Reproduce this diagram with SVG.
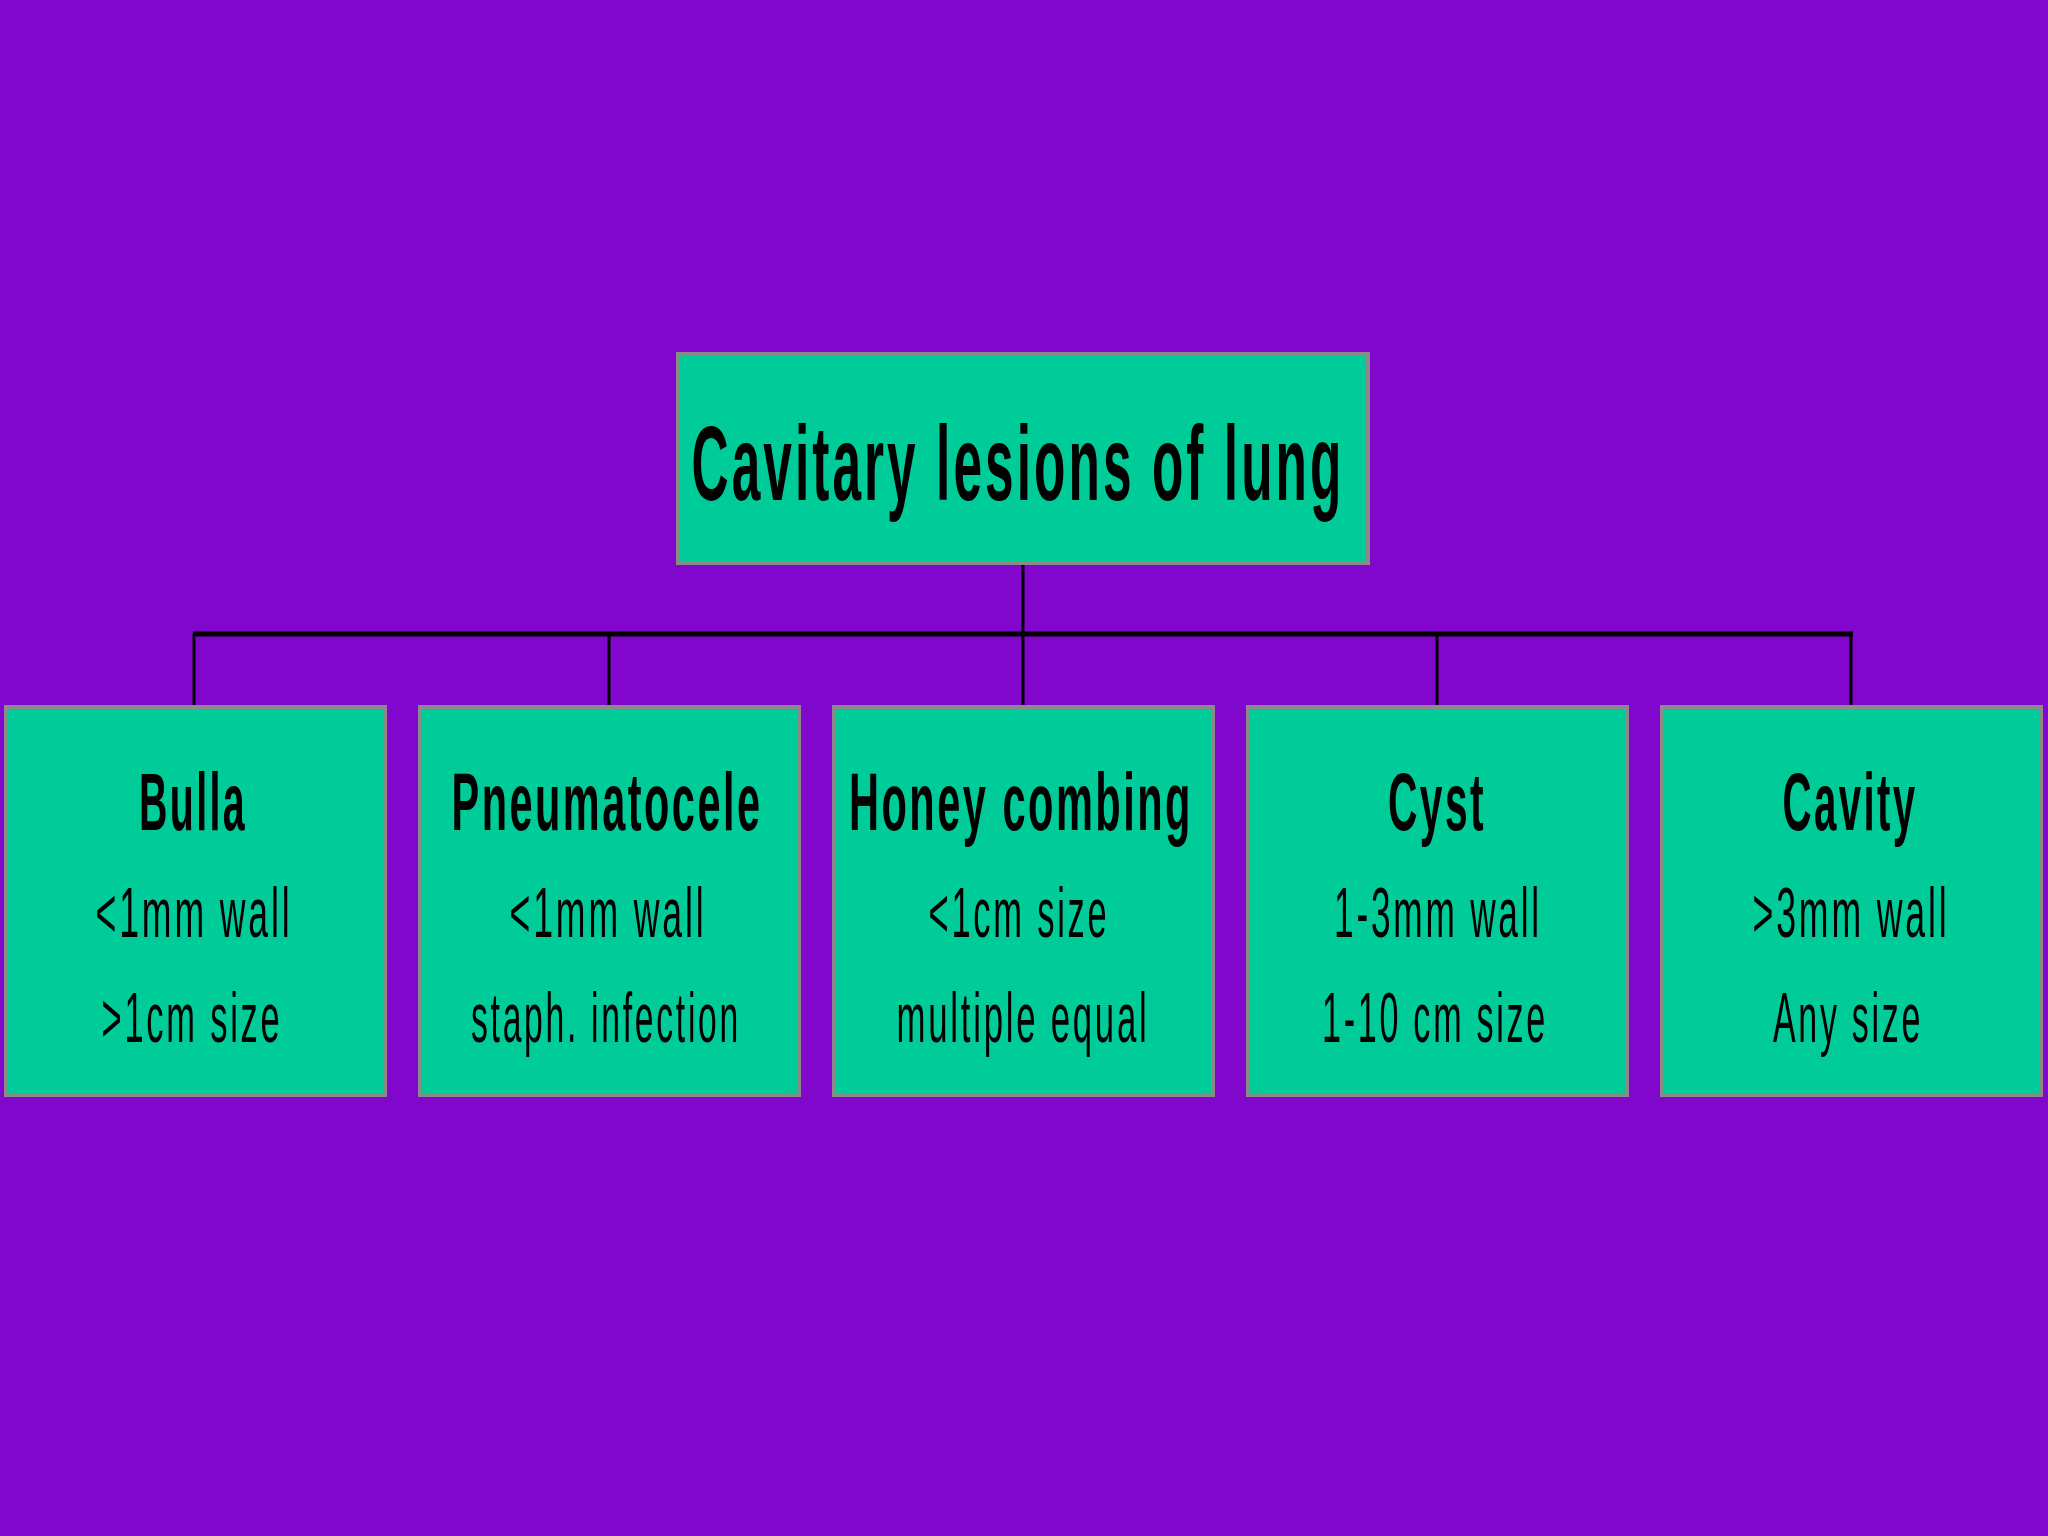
<svg xmlns="http://www.w3.org/2000/svg" width="2048" height="1536" viewBox="0 0 2048 1536">
<style>
.box{fill:#00CC99;stroke:#8A8A8A;stroke-width:4}
.conn{stroke:#000;fill:none}
.h{font-family:"Liberation Sans",Arial,sans-serif;font-weight:bold;fill:#000;text-anchor:middle;letter-spacing:0.06em}
.t{font-family:"Liberation Sans",Arial,sans-serif;fill:#000;text-anchor:middle;font-size:70px;letter-spacing:0.08em}
.ch{font-size:81px}
</style>
<rect width="2048" height="1536" fill="#8207CD"/>
<g id="connectors">
<line class="conn" x1="1023" y1="564" x2="1023" y2="707" stroke-width="3"/>
<line class="conn" x1="193" y1="634" x2="1853" y2="634" stroke-width="5"/>
<line class="conn" x1="194" y1="634" x2="194" y2="707" stroke-width="3"/>
<line class="conn" x1="609" y1="634" x2="609" y2="707" stroke-width="3"/>
<line class="conn" x1="1437" y1="634" x2="1437" y2="707" stroke-width="3"/>
<line class="conn" x1="1851" y1="634" x2="1851" y2="707" stroke-width="3"/>
</g>
<g id="root">
<rect class="box" x="678" y="354" width="690" height="209"/>
<text class="h" x="1018" y="500" font-size="106" textLength="653" lengthAdjust="spacingAndGlyphs">Cavitary lesions of lung</text>
</g>
<g id="bulla">
<rect class="box" x="6" y="707" width="379" height="388"/>
<text class="h ch" x="193" y="830" textLength="108" lengthAdjust="spacingAndGlyphs">Bulla</text>
<text class="t" x="194" y="937" textLength="197" lengthAdjust="spacingAndGlyphs">&lt;1mm wall</text>
<text class="t" x="192" y="1042" textLength="181" lengthAdjust="spacingAndGlyphs">&gt;1cm size</text>
</g>
<g id="pneumatocele">
<rect class="box" x="420" y="707" width="379" height="388"/>
<text class="h ch" x="607" y="830" textLength="311" lengthAdjust="spacingAndGlyphs">Pneumatocele</text>
<text class="t" x="608" y="937" textLength="197" lengthAdjust="spacingAndGlyphs">&lt;1mm wall</text>
<text class="t" x="606" y="1042" textLength="270" lengthAdjust="spacingAndGlyphs">staph. infection</text>
</g>
<g id="honeycombing">
<rect class="box" x="834" y="707" width="379" height="388"/>
<text class="h ch" x="1021" y="830" textLength="344" lengthAdjust="spacingAndGlyphs">Honey combing</text>
<text class="t" x="1019" y="937" textLength="181" lengthAdjust="spacingAndGlyphs">&lt;1cm size</text>
<text class="t" x="1023" y="1042" textLength="253" lengthAdjust="spacingAndGlyphs">multiple equal</text>
</g>
<g id="cyst">
<rect class="box" x="1248" y="707" width="379" height="388"/>
<text class="h ch" x="1437" y="830" textLength="98" lengthAdjust="spacingAndGlyphs">Cyst</text>
<text class="t" x="1438" y="937" textLength="208" lengthAdjust="spacingAndGlyphs">1-3mm wall</text>
<text class="t" x="1435" y="1042" textLength="226" lengthAdjust="spacingAndGlyphs">1-10 cm size</text>
</g>
<g id="cavity">
<rect class="box" x="1662" y="707" width="379" height="388"/>
<text class="h ch" x="1850" y="830" textLength="135" lengthAdjust="spacingAndGlyphs">Cavity</text>
<text class="t" x="1851" y="937" textLength="197" lengthAdjust="spacingAndGlyphs">&gt;3mm wall</text>
<text class="t" x="1848" y="1042" textLength="150" lengthAdjust="spacingAndGlyphs">Any size</text>
</g>
</svg>
